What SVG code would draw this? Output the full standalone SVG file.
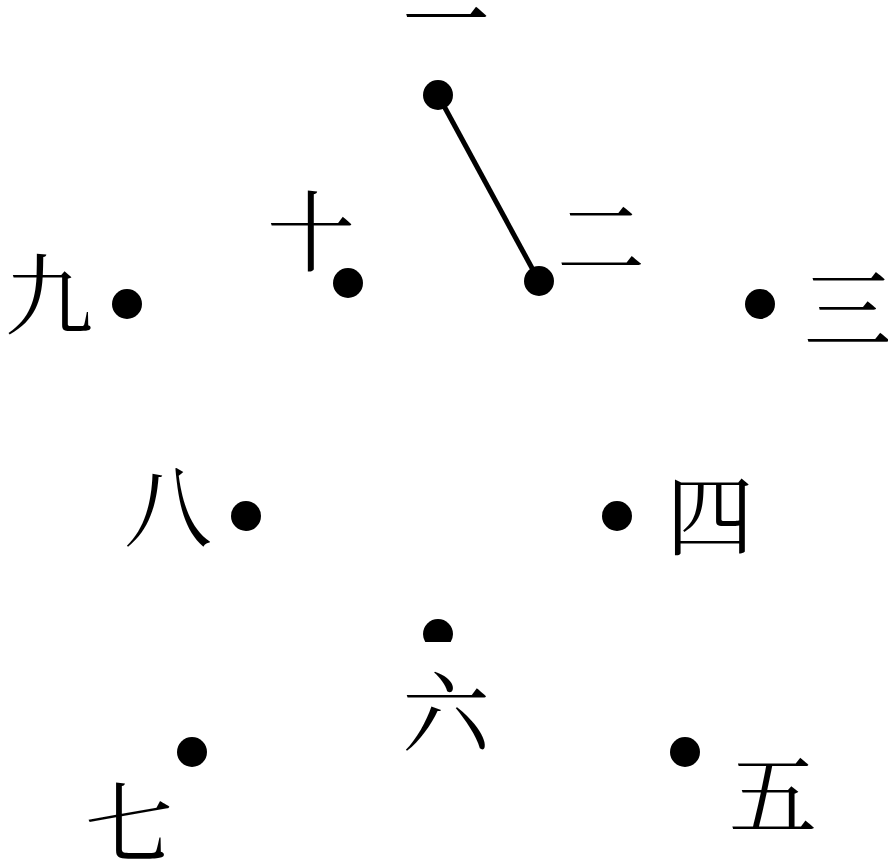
<svg xmlns="http://www.w3.org/2000/svg" width="888" height="864" viewBox="0 0 888 864">
  <style>
    .dot { fill: #000; }
    .lbl { font-family: "Noto Serif CJK SC", "Liberation Serif", "Noto Sans CJK SC", serif; font-size: 88px; fill: #000; text-anchor: middle; dominant-baseline: central; }
    .edge { stroke: #000; stroke-width: 5; fill: none; }
  </style>
  <defs>
    <clipPath id="cut6"><rect x="400" y="600" width="80" height="42"/></clipPath>
  </defs>
  <rect width="888" height="864" fill="#fff"/>
  <g id="connectors">
    <line class="edge" x1="438" y1="95" x2="539" y2="281"/>
  </g>
  <g id="n1"><circle class="dot" cx="438" cy="95" r="15"/><text class="lbl" x="446" y="14">一</text></g>
  <g id="n2"><circle class="dot" cx="539" cy="281" r="15"/><text class="lbl" x="601" y="232">二</text></g>
  <g id="n3"><circle class="dot" cx="760" cy="304" r="15"/><text class="lbl" x="848" y="303">三</text></g>
  <g id="n4"><circle class="dot" cx="617" cy="516" r="15"/><text class="lbl" x="710" y="510">四</text></g>
  <g id="n5"><circle class="dot" cx="685" cy="752" r="15"/><text class="lbl" x="773" y="789">五</text></g>
  <g id="n6"><circle class="dot" cx="438" cy="634" r="15" clip-path="url(#cut6)"/><text class="lbl" x="446" y="707">六</text></g>
  <g id="n7"><circle class="dot" cx="192" cy="752" r="15"/><text class="lbl" x="129" y="817">七</text></g>
  <g id="n8"><circle class="dot" cx="246" cy="516" r="15"/><text class="lbl" x="168" y="501">八</text></g>
  <g id="n9"><circle class="dot" cx="127" cy="304" r="15"/><text class="lbl" x="49" y="289">九</text></g>
  <g id="n10"><circle class="dot" cx="348" cy="283" r="15"/><text class="lbl" x="311" y="226">十</text></g>
</svg>
